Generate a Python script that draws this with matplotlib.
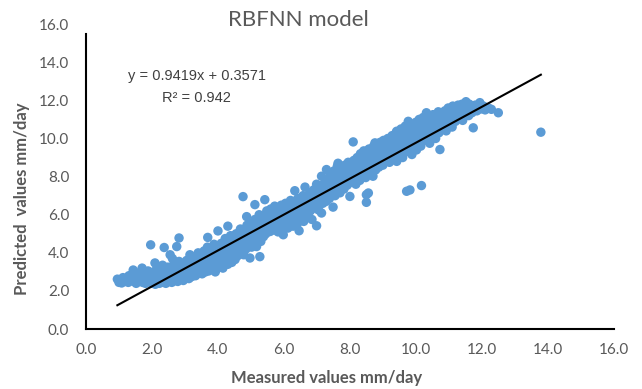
import numpy as np
import matplotlib.pyplot as plt

# -----------------------------------------------------
# Data (measured, predicted)
# -----------------------------------------------------

low_range = [
    (0.95, 2.62), (1.0, 2.45), (1.05, 2.55), (1.08, 2.42), (1.12, 2.7), (1.18, 2.5),
    (1.22, 2.62), (1.28, 2.45), (1.3, 2.8), (1.35, 2.55), (1.4, 2.68), (1.43, 3.1),
    (1.45, 2.5), (1.5, 2.85), (1.52, 2.4), (1.55, 2.62), (1.6, 2.95), (1.62, 2.5),
    (1.65, 2.75), (1.7, 3.2), (1.72, 2.45), (1.75, 2.6), (1.78, 2.9), (1.8, 2.4),
    (1.85, 2.7), (1.88, 3.05), (1.9, 2.5), (1.95, 2.8), (2.0, 2.4), (2.02, 2.6),
    (2.05, 3.0), (2.09, 3.47), (2.1, 2.35), (2.12, 2.75), (2.15, 3.2), (2.18, 2.5),
    (2.2, 2.9), (2.22, 2.4), (2.25, 3.1), (2.28, 2.65), (2.3, 2.45), (2.32, 3.35),
    (2.35, 2.8), (2.38, 2.55), (2.4, 3.0), (2.42, 2.4), (2.45, 2.7), (2.48, 3.25),
    (2.5, 2.5), (2.52, 2.9), (2.55, 3.9), (2.55, 2.6), (2.58, 3.1), (2.6, 2.45),
    (2.62, 3.7), (2.64, 2.8), (2.66, 3.4), (2.68, 2.55), (2.7, 3.0), (2.72, 2.65),
    (2.75, 3.25), (2.78, 2.5), (2.8, 2.85), (2.82, 3.55), (2.85, 2.6), (2.88, 3.1),
    (2.9, 2.75), (2.92, 3.45), (2.95, 2.55), (2.97, 2.95), (3.0, 3.3), (3.02, 2.7),
    (3.05, 3.6), (3.08, 2.85), (3.1, 3.15), (3.12, 2.65), (3.15, 3.9), (3.18, 3.0),
    (3.2, 2.75), (3.22, 3.4), (3.25, 3.7), (3.28, 2.9), (3.3, 3.2), (3.32, 2.8),
    (3.35, 3.55), (3.38, 3.05), (3.4, 4.0), (3.42, 2.95), (3.45, 3.35), (3.48, 3.75),
    (3.5, 3.1), (3.52, 2.9), (3.55, 3.5), (3.58, 4.1), (3.6, 3.2), (3.62, 3.0),
    (3.65, 3.65), (3.68, 4.3), (3.7, 3.35), (3.72, 3.05), (3.75, 3.8), (3.78, 3.15),
    (3.8, 4.05), (3.82, 3.5), (3.85, 3.25), (3.88, 4.45), (3.9, 3.7), (3.92, 3.0),
    (3.95, 3.95), (3.98, 3.4),
]

mid_range = [
    (4.02, 4.1), (4.05, 3.3), (4.08, 3.65), (4.1, 4.5), (4.12, 3.9), (4.15, 3.2),
    (4.18, 4.25), (4.2, 3.55), (4.22, 4.75), (4.25, 3.8), (4.28, 4.05), (4.3, 3.4),
    (4.32, 4.4), (4.35, 3.7), (4.38, 4.9), (4.4, 4.15), (4.42, 3.5), (4.45, 4.6),
    (4.48, 3.95), (4.5, 4.3), (4.52, 3.65), (4.55, 5.0), (4.58, 4.2), (4.6, 3.85),
    (4.62, 4.7), (4.65, 4.45), (4.68, 5.25), (4.7, 4.0), (4.72, 4.85), (4.75, 4.3),
    (4.78, 3.9), (4.8, 5.1), (4.82, 4.55), (4.85, 4.2), (4.88, 5.45), (4.9, 4.8),
    (4.92, 4.35), (4.95, 5.15), (4.98, 4.6), (5.0, 5.55), (5.02, 4.3), (5.05, 4.9),
    (5.08, 5.3), (5.1, 4.55), (5.12, 5.75), (5.15, 5.05), (5.18, 4.7), (5.2, 5.5),
    (5.22, 4.95), (5.25, 6.0), (5.28, 5.25), (5.3, 4.6), (5.32, 5.7), (5.35, 5.1),
    (5.38, 4.85), (5.4, 5.95), (5.42, 5.4), (5.45, 5.0), (5.48, 6.2), (5.5, 5.6),
    (5.52, 5.2), (5.55, 5.85), (5.58, 5.12), (5.6, 6.3), (5.62, 5.45), (5.65, 5.95),
    (5.68, 5.2), (5.7, 5.7), (5.72, 6.45), (5.75, 5.35), (5.78, 6.0), (5.8, 5.55),
    (5.82, 5.1), (5.85, 6.25), (5.88, 5.75), (5.9, 5.3), (5.92, 6.5), (5.95, 5.9),
    (5.98, 4.95), (6.0, 6.15), (6.02, 5.45), (6.05, 6.6), (6.08, 5.75), (6.1, 6.0),
    (6.12, 5.3), (6.15, 6.35), (6.18, 5.85), (6.2, 6.75), (6.22, 5.6), (6.25, 6.1),
    (6.28, 5.4), (6.3, 6.5), (6.33, 7.26), (6.35, 5.9), (6.38, 6.25), (6.4, 5.5),
    (6.42, 6.85), (6.45, 6.05), (6.46, 5.16), (6.5, 6.6), (6.52, 5.8), (6.55, 6.3),
    (6.58, 7.0), (6.6, 5.65), (6.62, 6.45), (6.64, 7.45), (6.66, 6.1), (6.7, 6.8),
    (6.72, 5.9), (6.75, 6.5), (6.78, 7.15), (6.8, 6.2), (6.82, 6.95), (6.85, 5.75),
    (6.88, 6.6), (6.9, 7.3), (6.92, 6.35), (6.95, 6.9), (6.99, 5.42), (6.99, 7.6),
    (7.0, 6.55), (7.02, 7.1), (7.05, 6.25), (7.08, 7.45), (7.1, 6.8), (7.14, 6.09),
    (7.14, 8.02), (7.15, 7.2), (7.18, 6.6), (7.2, 7.6), (7.22, 6.95), (7.25, 7.35),
    (7.28, 6.7), (7.29, 8.37), (7.3, 7.8), (7.32, 7.05), (7.35, 7.5), (7.38, 6.85),
    (7.4, 8.1), (7.42, 7.25), (7.45, 7.7), (7.49, 6.4), (7.5, 7.45), (7.52, 8.3),
    (7.55, 7.0), (7.58, 7.85), (7.6, 7.3), (7.62, 8.55), (7.64, 8.7), (7.65, 7.6),
    (7.68, 8.05), (7.7, 7.15), (7.72, 7.75), (7.75, 8.4), (7.78, 7.5), (7.8, 8.15),
    (7.82, 7.35), (7.85, 8.6), (7.88, 7.9), (7.9, 8.3), (7.92, 7.55), (7.95, 8.75),
    (7.98, 8.05),
]

high_range = [
    (8.0, 6.96), (8.02, 7.7), (8.05, 8.45), (8.08, 8.1), (8.1, 9.82), (8.1, 7.85),
    (8.12, 8.85), (8.15, 8.3), (8.18, 7.6), (8.2, 8.65), (8.22, 9.0), (8.25, 8.0),
    (8.28, 8.5), (8.3, 7.8), (8.32, 9.2), (8.35, 8.25), (8.38, 8.8), (8.4, 8.05),
    (8.42, 9.35), (8.45, 8.6), (8.48, 7.95), (8.5, 6.65), (8.5, 7.05), (8.52, 9.0),
    (8.55, 8.4), (8.56, 7.14), (8.58, 9.45), (8.6, 8.7), (8.62, 8.2), (8.65, 9.1),
    (8.68, 8.55), (8.7, 8.02), (8.72, 9.6), (8.75, 8.9), (8.76, 9.77), (8.78, 8.35),
    (8.8, 9.25), (8.82, 8.7), (8.85, 9.5), (8.88, 8.5), (8.9, 9.0), (8.92, 9.8),
    (8.95, 8.8), (8.98, 9.35), (9.0, 8.6), (9.02, 9.9), (9.05, 9.15), (9.08, 8.9),
    (9.1, 9.6), (9.12, 9.05), (9.15, 10.0), (9.18, 9.4), (9.2, 8.75), (9.22, 9.75),
    (9.25, 9.2), (9.28, 10.15), (9.3, 9.5), (9.32, 8.9), (9.35, 9.85), (9.38, 9.3),
    (9.4, 10.3), (9.42, 8.8), (9.42, 10.38), (9.45, 9.65), (9.48, 9.1), (9.5, 10.05),
    (9.52, 9.45), (9.55, 10.5), (9.58, 9.8), (9.6, 9.0), (9.62, 10.2), (9.65, 9.6),
    (9.68, 10.65), (9.7, 9.3), (9.72, 7.23), (9.74, 10.0), (9.77, 10.9), (9.78, 9.5),
    (9.8, 10.4), (9.82, 7.3), (9.84, 9.8), (9.86, 10.75), (9.88, 9.16), (9.9, 10.2),
    (9.92, 9.6), (9.95, 10.55), (9.98, 10.0), (10.0, 10.85), (10.02, 9.4), (10.05, 10.3),
    (10.08, 9.8), (10.1, 11.0), (10.12, 10.5), (10.15, 9.6), (10.17, 7.53), (10.18, 10.7),
    (10.2, 10.15), (10.22, 11.1), (10.25, 9.9), (10.28, 10.6), (10.3, 10.3), (10.32, 11.35),
    (10.35, 10.0), (10.38, 10.85), (10.4, 10.45), (10.42, 9.75), (10.45, 11.0), (10.48, 10.6),
    (10.5, 10.2), (10.52, 11.25), (10.55, 10.8), (10.58, 10.4), (10.6, 10.0), (10.62, 11.15),
    (10.65, 10.65), (10.68, 11.4), (10.7, 10.3), (10.73, 9.42), (10.75, 10.9), (10.78, 11.3),
    (10.8, 10.5), (10.82, 11.1), (10.85, 10.75), (10.88, 11.45), (10.9, 10.95), (10.92, 10.4),
    (10.95, 11.25), (10.98, 11.6), (11.0, 10.7), (11.02, 11.5), (11.05, 11.0), (11.08, 11.35),
    (11.1, 10.6), (11.12, 11.7), (11.15, 11.15), (11.18, 11.45), (11.2, 10.9), (11.22, 11.6),
    (11.25, 11.3), (11.28, 11.75), (11.3, 11.05), (11.32, 11.5), (11.35, 11.65), (11.38, 11.2),
    (11.4, 11.8), (11.42, 10.95), (11.45, 11.55), (11.48, 11.35), (11.5, 11.75), (11.52, 11.93),
    (11.55, 11.45), (11.58, 11.65), (11.6, 11.2), (11.62, 11.8), (11.65, 11.5), (11.68, 11.65),
    (11.7, 11.35), (11.74, 10.56), (11.75, 11.6), (11.8, 11.75), (11.85, 11.45), (11.9, 11.65),
    (11.94, 11.88), (11.98, 11.55), (12.05, 11.7), (12.1, 11.5), (12.2, 11.6), (12.29, 11.53),
    (12.5, 11.35), (13.79, 10.33),
]

outliers = [
    (1.96, 4.42), (2.37, 4.28), (2.75, 4.33), (2.82, 4.78), (3.69, 4.81), (4.0, 5.15),
    (4.3, 5.4), (4.76, 6.95), (4.87, 5.9), (4.97, 3.73), (5.12, 6.53), (5.17, 4.33),
    (5.27, 3.8), (5.42, 6.79),
]

# trend line reported on the chart
slope = 0.9419
intercept = 0.3571
r_squared = 0.942

x_ticks = [0, 2, 4, 6, 8, 10, 12, 14, 16]
y_ticks = [0, 2, 4, 6, 8, 10, 12, 14, 16]

# -----------------------------------------------------
# Plot
# -----------------------------------------------------

pts = np.array(low_range + mid_range + high_range + outliers)
measured = pts[:, 0]
predicted = pts[:, 1]

grey = "#595959"
blue = "#5B9BD5"

plt.rcParams["font.family"] = ["Lato", "DejaVu Sans"]

fig = plt.figure(figsize=(6.42, 3.89), dpi=100)
ax = fig.add_axes([0.134, 0.154, 0.822, 0.784])

ax.scatter(measured, predicted, s=46, color=blue, edgecolors="none", zorder=2)

xl = np.array([measured.min(), measured.max()])
ax.plot(xl, slope * xl + intercept, color="black", lw=1.5, zorder=3)

ax.set_xlim(0, 16)
ax.set_ylim(0, 16)
ax.set_xticks(x_ticks)
ax.set_yticks(y_ticks)
ax.set_xticklabels([f"{v:.1f}" for v in x_ticks])
ax.set_yticklabels([f"{v:.1f}" for v in y_ticks])
ax.tick_params(length=0, labelsize=11, colors=grey, pad=10)
ax.tick_params(axis="y", pad=12)

for side in ["top", "right"]:
    ax.spines[side].set_visible(False)
for side in ["left", "bottom"]:
    ax.spines[side].set_linewidth(1.5)
    ax.spines[side].set_color("black")
ax.spines["left"].set_bounds(0, 15.5)

ax.text(3.36, 13.3, f"y = {slope}x + {intercept}", ha="center", va="center",
        fontsize=10.5, color="#404040", family="Liberation Sans")
ax.text(3.36, 12.15, f"R² = {r_squared}", ha="center", va="center",
        fontsize=10.5, color="#404040", family="Liberation Sans")

fig.text(0.465, 0.948, "RBFNN model", ha="center", va="center",
         fontsize=16, color=grey)
fig.text(0.508, 0.028, "Measured values mm/day", ha="center", va="center",
         fontsize=12, color=grey, fontweight="bold")
fig.text(0.034, 0.49, "Predicted  values mm/day", ha="center", va="center",
         fontsize=12, color=grey, fontweight="bold", rotation=90)

fig.savefig("out.png", dpi=100)
